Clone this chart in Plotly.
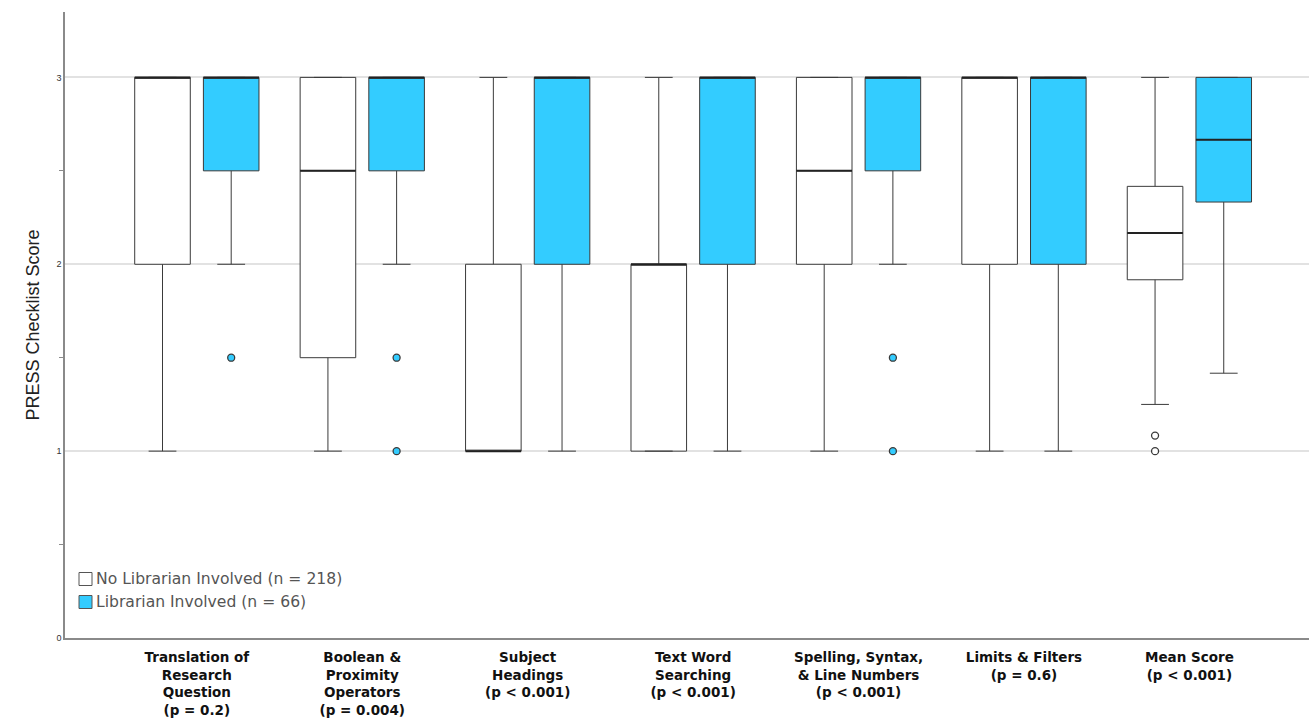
import plotly.graph_objects as go

# Checklist domains (x axis), with significance of group difference
categories = [
    "Translation of<br>Research<br>Question<br>(p = 0.2)",
    "Boolean &amp;<br>Proximity<br>Operators<br>(p = 0.004)",
    "Subject<br>Headings<br>(p &lt; 0.001)",
    "Text Word<br>Searching<br>(p &lt; 0.001)",
    "Spelling, Syntax,<br>&amp; Line Numbers<br>(p &lt; 0.001)",
    "Limits &amp; Filters<br>(p = 0.6)",
    "Mean Score<br>(p &lt; 0.001)",
]

# No librarian involved (n = 218): five-number summaries per domain
no_lib_q1 = [2, 1.5, 1, 1, 2, 2, 1.917]
no_lib_median = [3, 2.5, 1, 2, 2.5, 3, 2.167]
no_lib_q3 = [3, 3, 2, 2, 3, 3, 2.417]
no_lib_lower = [1, 1, 1, 1, 1, 1, 1.25]
no_lib_upper = [3, 3, 3, 3, 3, 3, 3]
no_lib_outlier_cat = [6, 6]
no_lib_outlier_val = [1.083, 1.0]

# Librarian involved (n = 66)
lib_q1 = [2.5, 2.5, 2, 2, 2.5, 2, 2.333]
lib_median = [3, 3, 3, 3, 3, 3, 2.667]
lib_q3 = [3, 3, 3, 3, 3, 3, 3]
lib_lower = [2, 2, 1, 1, 2, 1, 1.417]
lib_upper = [3, 3, 3, 3, 3, 3, 3]
lib_outlier_cat = [0, 1, 1, 4, 4]
lib_outlier_val = [1.5, 1.5, 1.0, 1.5, 1.0]

y_ticks = [0, 1, 2, 3]

OFFSET = 0.2076
BOX_W = 0.336
EDGE = "#3a3a3a"
BLUE = "#33CCFF"

groups = [
    dict(name="No Librarian Involved (n = 218)", fill="white", off=-OFFSET,
         q1=no_lib_q1, med=no_lib_median, q3=no_lib_q3, lo=no_lib_lower, hi=no_lib_upper,
         oc=no_lib_outlier_cat, ov=no_lib_outlier_val),
    dict(name="Librarian Involved (n = 66)", fill=BLUE, off=OFFSET,
         q1=lib_q1, med=lib_median, q3=lib_q3, lo=lib_lower, hi=lib_upper,
         oc=lib_outlier_cat, ov=lib_outlier_val),
]

fig = go.Figure()
for g in groups:
    xs = [i + g["off"] for i in range(len(categories))]
    fig.add_trace(go.Box(
        name=g["name"], x=xs, q1=g["q1"], median=g["med"], q3=g["q3"],
        lowerfence=g["lo"], upperfence=g["hi"], width=BOX_W, whiskerwidth=0.5,
        fillcolor=g["fill"], line=dict(color=EDGE, width=1), boxpoints=False,
        hoverinfo="skip", showlegend=False,
    ))
    # thicker median bars
    mx, my = [], []
    for x, m in zip(xs, g["med"]):
        mx += [x - BOX_W / 2, x + BOX_W / 2, None]
        my += [m, m, None]
    fig.add_trace(go.Scatter(x=mx, y=my, mode="lines", showlegend=False,
                             line=dict(color="#222222", width=2), hoverinfo="skip"))
    fig.add_trace(go.Scatter(
        x=[c + g["off"] for c in g["oc"]], y=g["ov"], mode="markers", showlegend=False,
        marker=dict(size=7, color=g["fill"], line=dict(color=EDGE, width=1.3)),
        hoverinfo="skip",
    ))

# Legend drawn as swatches + labels in pixel-anchored paper coordinates
W, H = 1309, 721
ML, MR, MT, MB = 65, 0, 12, 83
pw, ph = W - ML - MR, H - MT - MB


def px_x(x):
    return (x - ML) / pw


def px_y(y):
    return (H - MB - y) / ph


for row, g in enumerate(groups):
    cy = 579 + row * 23
    fig.add_shape(type="rect", xref="paper", yref="paper",
                  x0=px_x(79), x1=px_x(92), y0=px_y(cy + 6.5), y1=px_y(cy - 6.5),
                  fillcolor=g["fill"], line=dict(color="#555", width=1))
    fig.add_annotation(xref="paper", yref="paper", x=px_x(94), y=px_y(cy),
                       xanchor="left", yanchor="middle", showarrow=False,
                       text=g["name"], font=dict(family="DejaVu Sans", size=15.6, color="#555"))

fig.update_layout(
    width=W, height=H,
    margin=dict(l=ML, r=MR, t=MT, b=MB),
    paper_bgcolor="white", plot_bgcolor="white",
    font=dict(family="Liberation Sans, Arial, sans-serif", color="#222"),
    boxmode="overlay",
    showlegend=False,
    xaxis=dict(
        range=[-0.797, 6.723], tickmode="array", tickvals=list(range(len(categories))),
        ticktext=[f"<b>{c}</b>" for c in categories],
        tickfont=dict(family="DejaVu Sans", size=13.5, color="#111"), showgrid=False,
        zeroline=False, showline=True, linecolor="#8a8a8a", linewidth=1.5, ticks="",
        ticklabelstandoff=6,
    ),
    yaxis=dict(
        range=[0, 3.35], tickmode="array", tickvals=y_ticks,
        ticktext=[str(t) for t in y_ticks], tickfont=dict(size=9, color="#333"),
        showgrid=True, gridcolor="#e2e2e2", gridwidth=2, zeroline=False,
        showline=True, linecolor="#8a8a8a", linewidth=1.5, ticks="",
        minor=dict(tickvals=[0.5, 1.5, 2.5], ticks="outside", ticklen=4,
                   tickcolor="#8a8a8a", showgrid=False),
        title=dict(text="PRESS Checklist Score", font=dict(size=18, color="#222"),
                   standoff=12),
    ),
)

fig.write_html("out.html")
